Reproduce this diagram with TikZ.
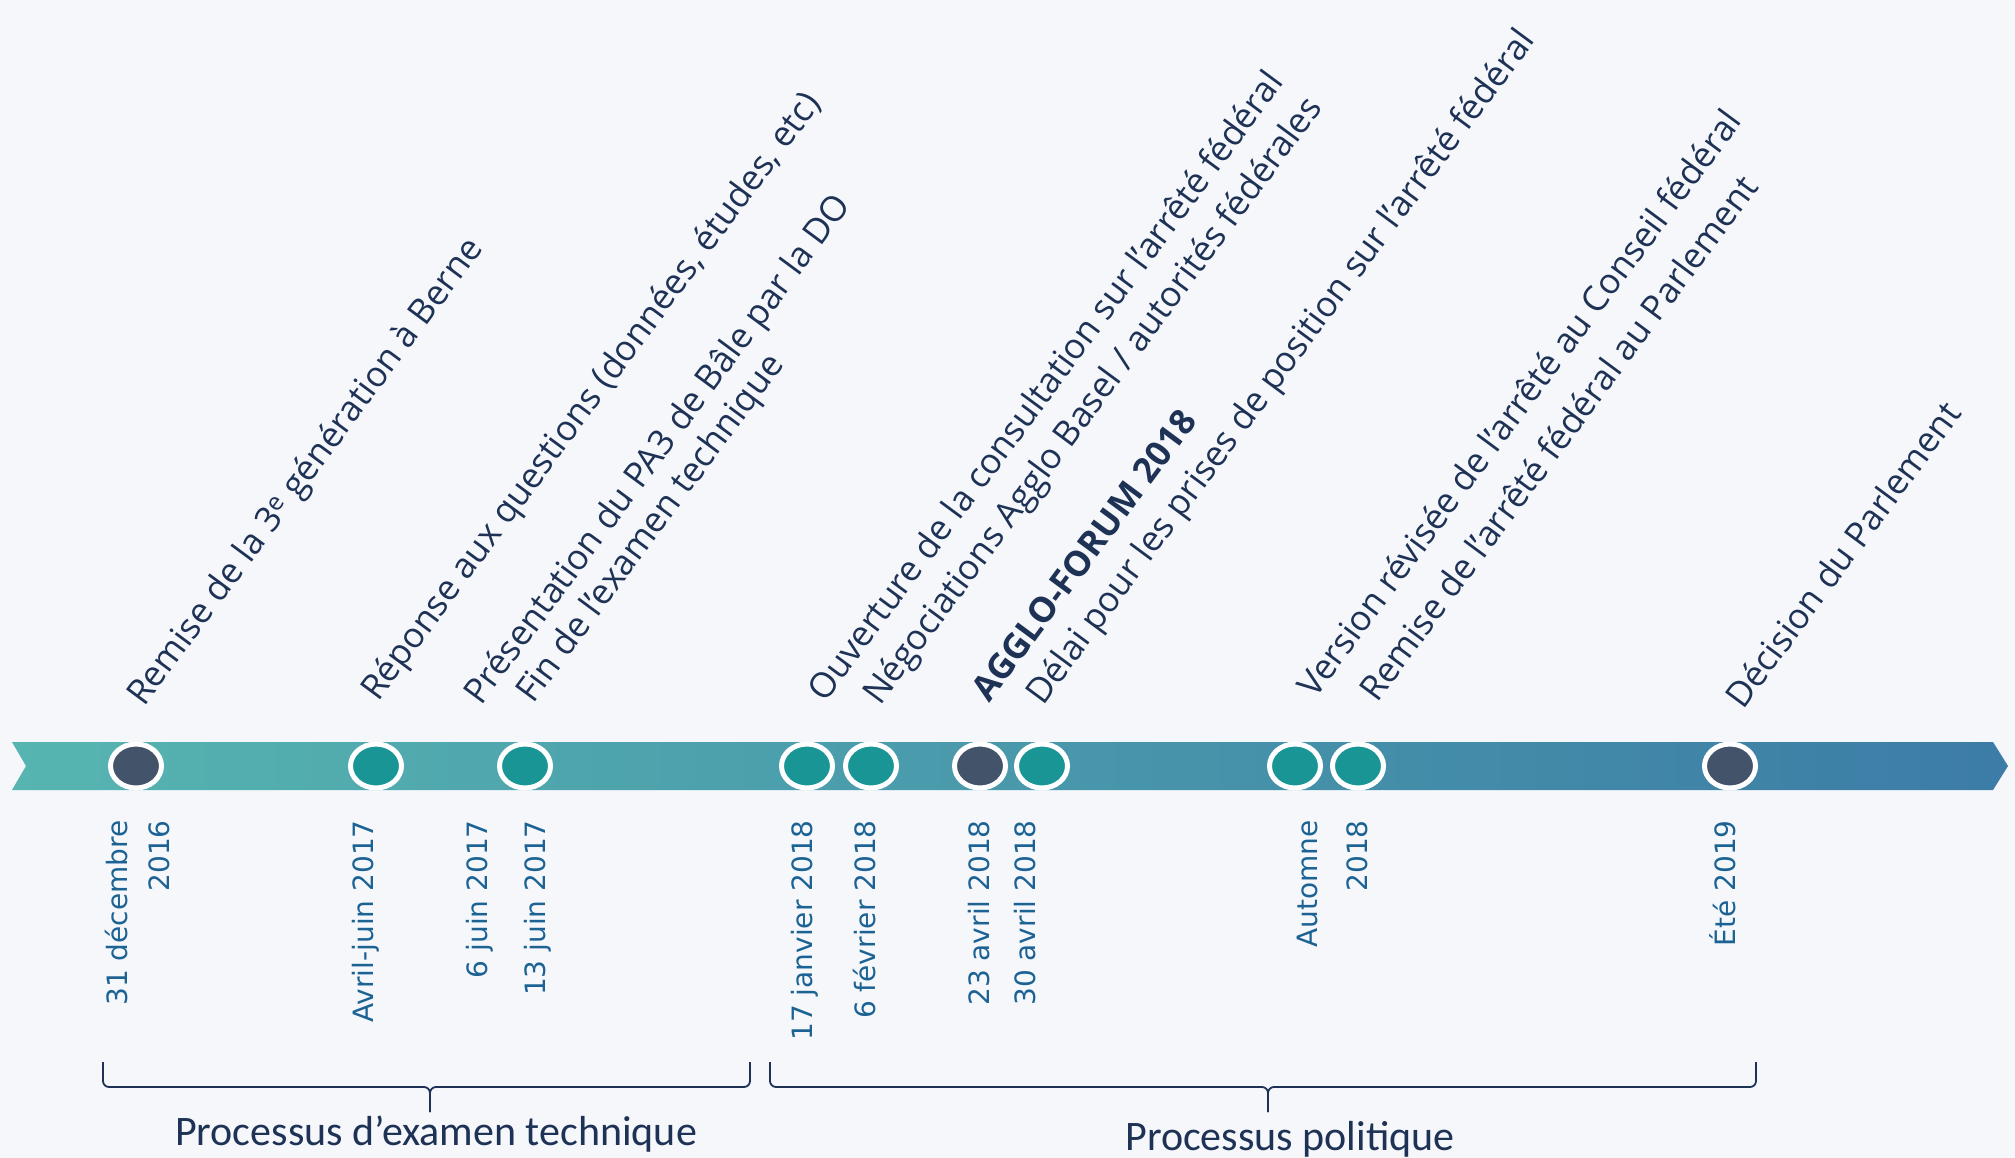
\documentclass[tikz,border=0pt]{standalone}
\usepackage{fontspec}
\usepackage{tikz}
\usetikzlibrary{shapes.geometric}
\newfontfamily\eventfont{Open Sans}
\newfontfamily\datefont{DejaVu Sans}
\newfontfamily\phasefont{Carlito}
\definecolor{pagebg}{RGB}{245,247,251}
\definecolor{bandleft}{RGB}{86,181,176}
\definecolor{bandright}{RGB}{60,124,166}
\definecolor{tealdot}{RGB}{26,149,150}
\definecolor{darkdot}{RGB}{67,83,105}
\definecolor{navytext}{RGB}{30,50,86}
\definecolor{datetext}{RGB}{28,99,148}
\tikzset{
    milestone/.style = {
        ellipse,
        draw=white,
        line width=5pt,
        minimum width=51pt,
        minimum height=44pt,
        inner sep=0pt
    },
    tealmark/.style = {
        milestone,
        fill=tealdot
    },
    darkmark/.style = {
        milestone,
        fill=darkdot
    },
    eventlabel/.style = {
        rotate=53.5,
        anchor=base west,
        inner sep=0pt,
        text=navytext,
        font=\eventfont\fontsize{35}{42}\selectfont
    },
    datelabel/.style = {
        rotate=90,
        anchor=mid east,
        inner sep=0pt,
        text=datetext,
        font=\datefont\fontsize{28}{34}\selectfont
    },
    bracket/.style = {
        draw=navytext,
        line width=1.8pt,
        rounded corners=6pt
    },
    phaselabel/.style = {
        anchor=base,
        inner sep=0pt,
        text=navytext,
        font=\phasefont\fontsize{42}{50}\selectfont
    }
}

\begin{document}
\begin{tikzpicture}[x=1pt,y=-1pt]
    \fill[pagebg] (0,0) rectangle (2015,1158);
    \useasboundingbox (0,0) rectangle (2015,1158);

    \shade[left color=bandleft, right color=bandright]
        (12,742) -- (1993,742) -- (2008,766) -- (1993,790) -- (12,790) -- (26,766) -- cycle;

    \foreach \x/\n/\s in {136/m1/darkmark, 376/m2/tealmark, 525/m3/tealmark,
                          807/m4/tealmark, 871/m5/tealmark, 980/m6/darkmark,
                          1042/m7/tealmark, 1295/m8/tealmark, 1358/m9/tealmark,
                          1730/m10/darkmark}
        \node[\s] (\n) at (\x,766) {};

    \node[eventlabel] (e1) at (144,708) {Remise de la 3\textsuperscript{e} génération à Berne};
    \node[eventlabel] (e2) at (378,703) {Réponse aux questions (données, études, etc)};
    \node[eventlabel] (e3a) at (481,707) {Présentation du PA3 de Bâle par la DO};
    \node[eventlabel] (e3b) at (533,705) {Fin de l’examen technique};
    \node[eventlabel] (e4a) at (825,704) {Ouverture de la consultation sur l’arrêté fédéral};
    \node[eventlabel] (e4b) at (880,707) {Négociations Agglo Basel / autorités fédérales};
    \node[eventlabel, font=\eventfont\bfseries\fontsize{35}{42}\selectfont] (e5a) at (989,704) {AGGLO-FORUM 2018};
    \node[eventlabel] (e5b) at (1043,707) {Délai pour les prises de position sur l’arrêté fédéral};
    \node[eventlabel] (e6a) at (1315,700) {Version révisée de l’arrêté au Conseil fédéral};
    \node[eventlabel] (e6b) at (1377,704) {Remise de l’arrêté fédéral au Parlement};
    \node[eventlabel] (e7) at (1743,711) {Décision du Parlement};

    \node[datelabel] (t1a) at (125,820) {31 décembre};
    \node[datelabel] (t1b) at (167,820) {2016};
    \node[datelabel] (t2) at (371,820) {Avril-juin 2017};
    \node[datelabel] (t3a) at (485,820) {6 juin 2017};
    \node[datelabel] (t3b) at (543,820) {13 juin 2017};
    \node[datelabel] (t4) at (810,820) {17 janvier 2018};
    \node[datelabel] (t5) at (873,820) {6 février 2018};
    \node[datelabel] (t6) at (987,820) {23 avril 2018};
    \node[datelabel] (t7) at (1033,820) {30 avril 2018};
    \node[datelabel] (t8a) at (1315,820) {Automne};
    \node[datelabel] (t8b) at (1365,820) {2018};
    \node[datelabel] (t9) at (1733,820) {Été 2019};

    \coordinate (b1l) at (103,1062);
    \coordinate (b1r) at (750,1062);
    \coordinate (b1m) at (430,1087);
    \coordinate (b1t) at (430,1112);
    \coordinate (b2l) at (770,1062);
    \coordinate (b2r) at (1756,1062);
    \coordinate (b2m) at (1268,1087);
    \coordinate (b2t) at (1268,1112);
    \draw[bracket] (b1l) |- (b1m) -- (b1t);
    \draw[bracket] (b1r) |- (b1m) -- (b1t);
    \draw[bracket] (b2l) |- (b2m) -- (b2t);
    \draw[bracket] (b2r) |- (b2m) -- (b2t);

    \node[phaselabel] (p1) at (436,1145) {Processus d’examen technique};
    \node[phaselabel] (p2) at (1290,1150) {Processus politique};
\end{tikzpicture}
\end{document}
